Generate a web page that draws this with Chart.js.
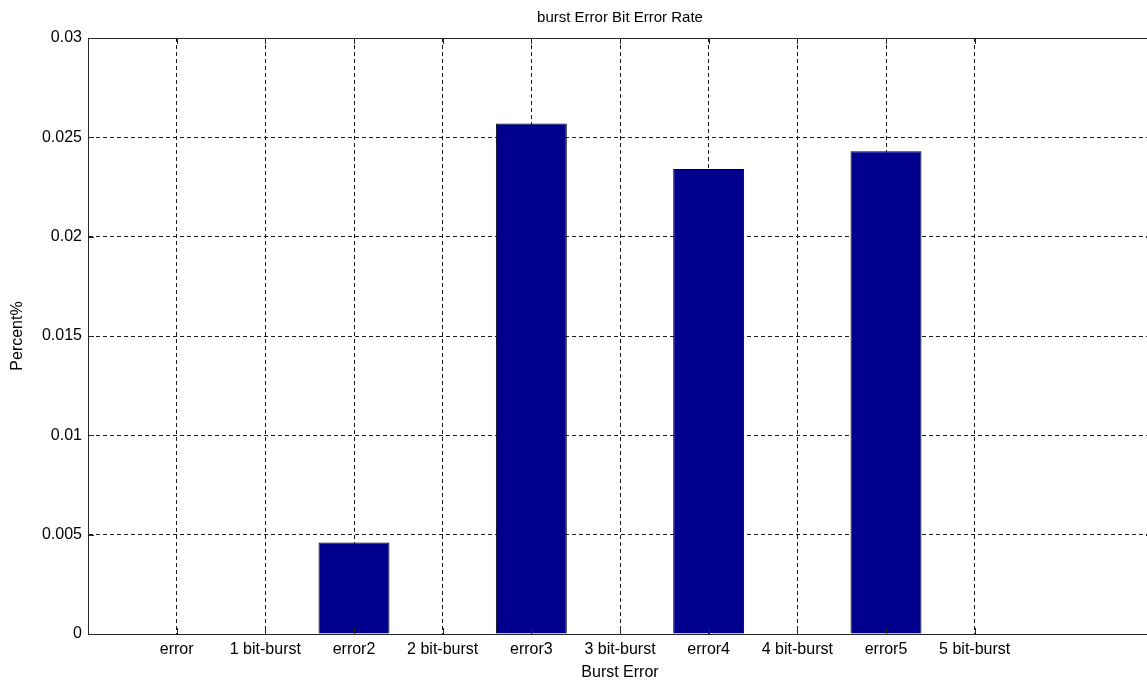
<!DOCTYPE html>
<html>
<head>
<meta charset="utf-8">
<title>burst Error Bit Error Rate</title>
<script src="https://cdn.jsdelivr.net/npm/chart.js@4/dist/chart.umd.min.js"></script>
<style>
  html, body { margin: 0; padding: 0; background: #ffffff; overflow: hidden; }
  #wrap { position: relative; width: 1160px; height: 683px; }
</style>
</head>
<body>
<div id="wrap"><canvas id="c" width="1160" height="683"></canvas></div>
<script>
// Burst-error categories and their bit error rate (percent)
const categories = ['error', '1 bit-burst', 'error2', '2 bit-burst', 'error3',
                    '3 bit-burst', 'error4', '4 bit-burst', 'error5', '5 bit-burst'];
const rates = [0, 0, 0.0046, 0, 0.0257, 0, 0.0234, 0, 0.0243, 0];
const yTicks = [0, 0.005, 0.01, 0.015, 0.02, 0.025, 0.03];

const FONT = "'Liberation Sans', Arial, Helvetica, sans-serif";

// Axes box: solid top edge plus short inward tick marks, like a boxed plot
const boxPlugin = {
  id: 'box',
  afterDraw(chart) {
    const { ctx, chartArea: a, scales } = chart;
    ctx.save();
    ctx.strokeStyle = '#262626';
    ctx.lineWidth = 1;
    ctx.setLineDash([]);
    ctx.beginPath();
    ctx.moveTo(a.left, Math.round(a.top) + 0.5);
    ctx.lineTo(a.right, Math.round(a.top) + 0.5);
    ctx.moveTo(Math.round(a.right) - 0.5, a.top);
    ctx.lineTo(Math.round(a.right) - 0.5, a.bottom);
    yTicks.forEach(v => {
      const y = Math.round(scales.y.getPixelForValue(v)) + 0.5;
      ctx.moveTo(a.left, y); ctx.lineTo(a.left + 6, y);
      ctx.moveTo(a.right, y); ctx.lineTo(a.right - 6, y);
    });
    categories.forEach((_, i) => {
      const x = Math.round(scales.x.getPixelForValue(i + 1)) + 0.5;
      ctx.moveTo(x, a.bottom); ctx.lineTo(x, a.bottom - 6);
      ctx.moveTo(x, a.top); ctx.lineTo(x, a.top + 6);
    });
    ctx.stroke();
    ctx.restore();
  }
};

new Chart(document.getElementById('c'), {
  type: 'bar',
  data: {
    datasets: [{
      label: 'Percent%',
      data: rates.map((v, i) => ({ x: i + 1, y: v })),
      backgroundColor: '#00008f',
      borderColor: '#000000',
      borderWidth: 1,
      borderSkipped: 'start',
      inflateAmount: 0,
      categoryPercentage: 1,
      barPercentage: 0.8
    }]
  },
  options: {
    responsive: false,
    animation: false,
    layout: { padding: { left: 0, right: 8, top: 0, bottom: 0 } },
    plugins: {
      legend: { display: false },
      tooltip: { enabled: false },
      title: {
        display: true,
        text: 'burst Error Bit Error Rate',
        fullSize: false,
        color: '#000000',
        font: { family: FONT, size: 15, weight: 'normal', lineHeight: 1.2 },
        padding: { top: 9, bottom: 11 }
      }
    },
    scales: {
      x: {
        type: 'linear',
        min: 0,
        max: 12,
        offset: false,
        afterBuildTicks: s => { s.ticks = categories.map((_, i) => ({ value: i + 1 })); },
        afterFit: s => { s.height = 49; },
        ticks: {
          autoSkip: false,
          maxRotation: 0,
          padding: 6,
          color: '#000000',
          font: { family: FONT, size: 16 },
          callback: v => categories[v - 1]
        },
        grid: {
          offset: false,
          drawTicks: false,
          color: '#1a1a1a',
          lineWidth: 1
        },
        border: { display: true, color: '#262626', width: 1, dash: [4, 3] },
        title: {
          display: true,
          text: 'Burst Error',
          color: '#000000',
          font: { family: FONT, size: 16, lineHeight: 1.2 },
          padding: { top: 0, bottom: 0.5 }
        }
      },
      y: {
        min: 0,
        max: 0.03,
        afterBuildTicks: s => { s.ticks = yTicks.map(v => ({ value: v })); },
        afterFit: s => { s.width = 88; },
        ticks: {
          padding: 6,
          color: '#000000',
          font: { family: FONT, size: 16 },
          callback: v => String(v)
        },
        grid: {
          drawTicks: false,
          color: '#1a1a1a',
          lineWidth: 1
        },
        border: { display: true, color: '#262626', width: 1, dash: [4, 3] },
        title: {
          display: true,
          text: 'Percent%',
          color: '#000000',
          font: { family: FONT, size: 16, lineHeight: 1.2 },
          padding: { top: 8, bottom: 0 }
        }
      }
    }
  },
  plugins: [boxPlugin]
});
</script>
</body>
</html>
